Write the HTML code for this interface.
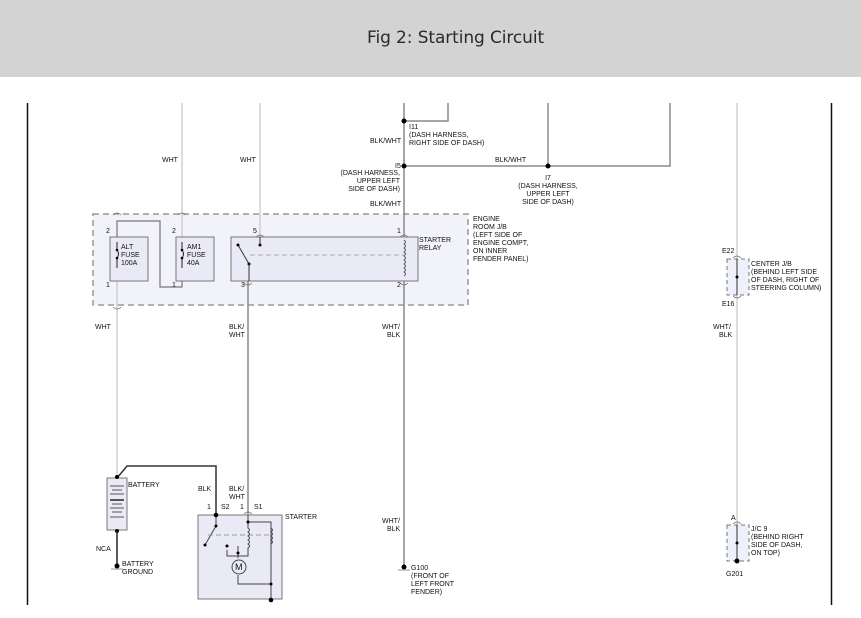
<!DOCTYPE html>
<html><head><meta charset="utf-8"><style>
body{margin:0;width:861px;height:618px;background:#fff;overflow:hidden;font-family:"Liberation Sans",sans-serif}
.hdr{position:absolute;left:0;top:0;width:861px;height:77px;background:#d3d3d3}
.hdr div{position:absolute;left:367px;top:28px;white-space:nowrap;font-size:17px;color:#2a2a2a;font-family:"DejaVu Sans","Liberation Sans",sans-serif;letter-spacing:-0.1px}
svg{position:absolute;left:0;top:0}
text{font-family:"Liberation Sans",sans-serif;font-size:7px;fill:#111}
</style></head><body>
<div class="hdr"><div>Fig 2: Starting Circuit</div></div>
<svg width="861" height="618" viewBox="0 0 861 618">
<line x1="27.5" y1="103" x2="27.5" y2="605" stroke="#111" stroke-width="1.5"/>
<line x1="831.5" y1="103" x2="831.5" y2="605" stroke="#111" stroke-width="1.5"/>
<rect x="93" y="214" width="375" height="91" fill="#f2f2fb" stroke="#999" stroke-width="1.5" stroke-dasharray="6,4"/>
<g fill="none" stroke="#8a8a8a" stroke-width="1.5">
<polyline points="448,103 448,121 404,121"/>
<polyline points="548,103 548,166"/>
<polyline points="670,103 670,166 404,166"/>
<line x1="404" y1="103" x2="404" y2="566"/>
<line x1="248" y1="281" x2="248" y2="515"/>
</g>
<g stroke="#d0d0d0" stroke-width="1.5" fill="none">
<line x1="182" y1="103" x2="182" y2="237"/>
<line x1="260" y1="103" x2="260" y2="237"/>
<line x1="117" y1="281" x2="117" y2="478"/>
<line x1="737" y1="103" x2="737" y2="562"/>
</g>
<polyline points="117,237 117,221 160,221 160,287 182,287 182,281" fill="none" stroke="#777" stroke-width="1.2"/>
<circle cx="404" cy="121" r="2.5" fill="#000"/>
<circle cx="404" cy="166" r="2.5" fill="#000"/>
<circle cx="548" cy="166" r="2.5" fill="#000"/>
<rect x="110" y="237" width="38" height="44" fill="#eaeaf6" stroke="#777"/>
<rect x="176" y="237" width="38" height="44" fill="#eaeaf6" stroke="#777"/>
<rect x="231" y="237" width="187" height="44" fill="#eaeaf6" stroke="#777"/>
<path d="M117 242 v8 q3 4 0 8 v10" stroke="#222" fill="none"/>
<path d="M182 242 v8 q3 4 0 8 v10" stroke="#222" fill="none"/>
<circle cx="117" cy="250" r="1.3"/><circle cx="117" cy="258" r="1.3"/>
<circle cx="182" cy="250" r="1.3"/><circle cx="182" cy="258" r="1.3"/>
<text x="121" y="249">ALT</text><text x="121" y="257">FUSE</text><text x="121" y="265">100A</text>
<text x="187" y="249">AM1</text><text x="187" y="257">FUSE</text><text x="187" y="265">40A</text>
<line x1="238" y1="245" x2="249" y2="264" stroke="#333"/>
<circle cx="238" cy="245" r="1.5"/><circle cx="249" cy="264" r="1.5"/><circle cx="260" cy="245" r="1.5"/>
<line x1="260" y1="237" x2="260" y2="245" stroke="#333"/>
<line x1="249" y1="264" x2="249" y2="281" stroke="#333"/>
<line x1="250" y1="255" x2="404" y2="255" stroke="#aaa" stroke-dasharray="5,3"/>
<path d="M404 240 q3 2 0 4 q3 2 0 4 q3 2 0 4 q3 2 0 4 q3 2 0 4 q3 2 0 4 q3 2 0 4 q3 2 0 4 q3 2 0 4" stroke="#555" fill="none"/>
<g fill="none" stroke="#777" stroke-width="0.8">
<path d="M113 215 q4 -4 8 0 M113 307 q4 4 8 0 M178 215 q4 -4 8 0 M256 237 q4 -4 8 0 M400 237 q4 -4 8 0 M244 283 q4 4 8 0 M400 283 q4 4 8 0"/>
</g>
<text x="106" y="233">2</text><text x="172" y="233">2</text><text x="253" y="233">5</text><text x="397" y="233">1</text>
<text x="106" y="287">1</text><text x="172" y="287">1</text><text x="241" y="287">3</text><text x="397" y="287">2</text>
<text x="419" y="242">STARTER</text><text x="419" y="250">RELAY</text>
<text x="473" y="221">ENGINE</text><text x="473" y="229">ROOM J/B</text><text x="473" y="237">(LEFT SIDE OF</text><text x="473" y="245">ENGINE COMPT,</text><text x="473" y="253">ON INNER</text><text x="473" y="261">FENDER PANEL)</text>
<text x="162" y="162">WHT</text><text x="240" y="162">WHT</text>
<text x="370" y="143">BLK/WHT</text><text x="370" y="206">BLK/WHT</text>
<text x="409" y="129">I11</text><text x="409" y="137">(DASH HARNESS,</text><text x="409" y="145">RIGHT SIDE OF DASH)</text>
<text x="395" y="168">I5</text>
<text x="400" y="175" text-anchor="end">(DASH HARNESS,</text><text x="400" y="183" text-anchor="end">UPPER LEFT</text><text x="400" y="191" text-anchor="end">SIDE OF DASH)</text>
<text x="495" y="162">BLK/WHT</text>
<text x="548" y="180" text-anchor="middle">I7</text><text x="548" y="188" text-anchor="middle">(DASH HARNESS,</text><text x="548" y="196" text-anchor="middle">UPPER LEFT</text><text x="548" y="204" text-anchor="middle">SIDE OF DASH)</text>
<text x="95" y="329">WHT</text>
<text x="229" y="329">BLK/</text><text x="229" y="337">WHT</text>
<text x="382" y="329">WHT/</text><text x="387" y="337">BLK</text>
<text x="713" y="329">WHT/</text><text x="719" y="337">BLK</text>
<text x="382" y="523">WHT/</text><text x="387" y="531">BLK</text>
<polyline points="117,478 127,466 216,466 216,515" fill="none" stroke="#333" stroke-width="1.5"/>
<rect x="107" y="478" width="20" height="52" fill="#eaeaf6" stroke="#777"/>
<g stroke="#555"><line x1="110" y1="486" x2="124" y2="486"/><line x1="112" y1="490" x2="122" y2="490"/><line x1="110" y1="494" x2="124" y2="494"/><line x1="110" y1="500" x2="124" y2="500" stroke-width="2"/><line x1="112" y1="504" x2="122" y2="504"/><line x1="110" y1="508" x2="124" y2="508"/><line x1="112" y1="512" x2="122" y2="512"/><line x1="110" y1="517" x2="124" y2="517"/></g>
<circle cx="117" cy="477" r="2"/><circle cx="117" cy="531" r="2"/>
<line x1="117" y1="531" x2="117" y2="565" stroke="#222" stroke-width="1.5"/>
<circle cx="117" cy="566" r="2.5"/><line x1="111" y1="569" x2="123" y2="569" stroke="#999"/>
<text x="128" y="487">BATTERY</text>
<text x="96" y="551">NCA</text>
<text x="122" y="566">BATTERY</text><text x="122" y="574">GROUND</text>
<rect x="198" y="515" width="84" height="84" fill="#eaeaf6" stroke="#777"/>
<g stroke="#444" fill="none">
<line x1="216" y1="515" x2="216" y2="526"/><line x1="216" y1="526" x2="205" y2="545"/>
<line x1="208" y1="535" x2="271" y2="535" stroke="#999" stroke-dasharray="5,3"/>
<line x1="248" y1="515" x2="248" y2="522"/>
<polyline points="248,522 271,522 271,590"/>
<path d="M248 522 v6 q3 2 0 4 q3 2 0 4 q3 2 0 4 q3 2 0 4 q3 2 0 4 v8 h-21 v-6"/>
<path d="M271 522 v6 q3 2 0 4 q3 2 0 4 q3 2 0 4 q3 2 0 4 v8"/>
<line x1="238" y1="546" x2="238" y2="558"/>
<circle cx="239" cy="567" r="7" fill="#eaeaf6"/>
<polyline points="238,575 238,584 271,584"/>
<line x1="271" y1="590" x2="271" y2="600"/>
</g>
<text x="235" y="570" style="font-size:9px">M</text>
<circle cx="216" cy="515" r="2.3"/><circle cx="216" cy="526" r="1.5"/><circle cx="205" cy="545" r="1.5"/>
<circle cx="248" cy="522" r="1.5"/><circle cx="227" cy="546" r="1.5"/><circle cx="238" cy="553" r="1.5"/>
<circle cx="271" cy="584" r="1.5"/><circle cx="271" cy="600" r="2.3"/>
<path d="M244 514 q4 -4 8 0" stroke="#777" fill="none" stroke-width="0.8"/>
<text x="198" y="491">BLK</text><text x="229" y="491">BLK/</text><text x="229" y="499">WHT</text>
<text x="207" y="509">1</text><text x="221" y="509">S2</text><text x="240" y="509">1</text><text x="254" y="509">S1</text>
<text x="285" y="519">STARTER</text>
<circle cx="404" cy="567" r="2.5"/><line x1="398" y1="570" x2="410" y2="570" stroke="#999"/>
<text x="411" y="570">G100</text><text x="411" y="578">(FRONT OF</text><text x="411" y="586">LEFT FRONT</text><text x="411" y="594">FENDER)</text>
<rect x="727" y="259" width="22" height="36" fill="#eef0fb" stroke="#777" stroke-dasharray="4,3"/>
<line x1="737" y1="259" x2="737" y2="295" stroke="#333"/>
<circle cx="737" cy="277" r="1.5"/>
<path d="M733 258 q4 -4 8 0 M733 296 q4 4 8 0" stroke="#777" fill="none" stroke-width="0.8"/>
<text x="722" y="253">E22</text><text x="722" y="306">E16</text>
<text x="751" y="266">CENTER J/B</text><text x="751" y="274">(BEHIND LEFT SIDE</text><text x="751" y="282">OF DASH, RIGHT OF</text><text x="751" y="290">STEERING COLUMN)</text>
<rect x="727" y="525" width="22" height="36" fill="#eef0fb" stroke="#777" stroke-dasharray="4,3"/>
<line x1="737" y1="525" x2="737" y2="561" stroke="#333"/>
<circle cx="737" cy="543" r="1.5"/><circle cx="737" cy="561" r="2.5"/>
<path d="M733 524 q4 -4 8 0" stroke="#777" fill="none" stroke-width="0.8"/>
<text x="731" y="520">A</text><text x="726" y="576">G201</text>
<text x="751" y="531">J/C 9</text><text x="751" y="539">(BEHIND RIGHT</text><text x="751" y="547">SIDE OF DASH,</text><text x="751" y="555">ON TOP)</text>
</svg>
</body></html>
